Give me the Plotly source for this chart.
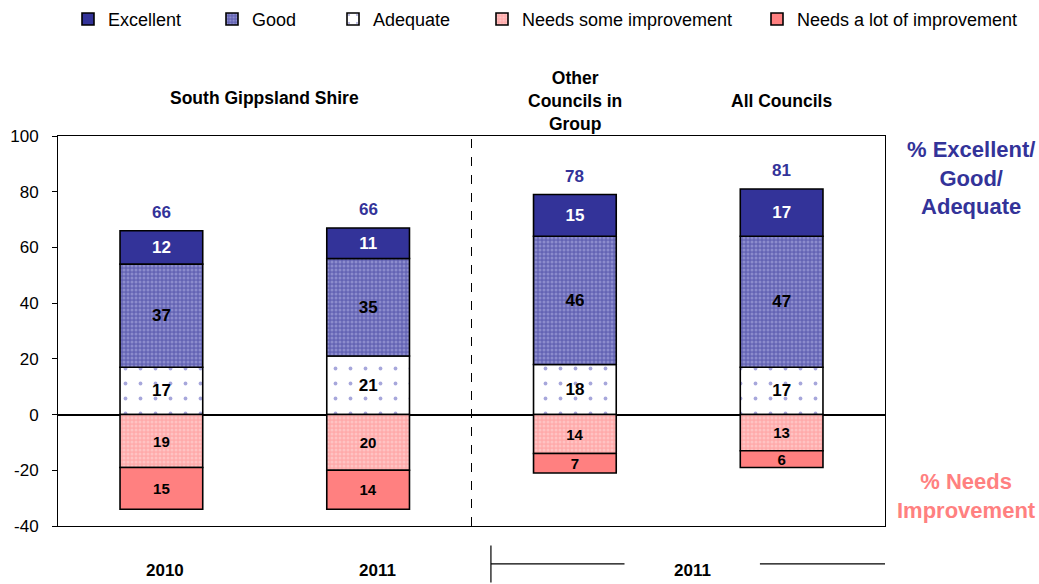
import plotly.graph_objects as go

categories = ["2010", "2011", "Other Councils in Group", "All Councils"]
excellent = [12, 11, 15, 17]
good = [37, 35, 46, 47]
adequate = [17, 21, 18, 17]
needs_some = [19, 20, 14, 13]
needs_lot = [15, 14, 7, 6]
totals = [66, 66, 78, 81]
y_ticks = [-40, -20, 0, 20, 40, 60, 80, 100]

FONT = "Liberation Sans, Arial, sans-serif"
NAVY = "#333399"
SALMON = "#FF8080"
xs = list(range(len(categories)))
BW = 0.4
line = dict(color="black", width=1.6)

# legend text start positions (px, container) for each series
legend_text_px = {"Excellent": 108, "Good": 252, "Adequate": 373,
                  "Needs some improvement": 522, "Needs a lot of improvement": 797}
legend_ids = {"Excellent": "legend", "Good": "legend2", "Adequate": "legend3",
              "Needs some improvement": "legend4", "Needs a lot of improvement": "legend5"}

fig = go.Figure()
fig.add_trace(go.Bar(
    x=xs, y=adequate, name="Adequate", width=BW, legend=legend_ids["Adequate"],
    text=adequate, textfont=dict(color="black", size=17, family=FONT, weight="bold"),
    marker=dict(color="white", line=line,
                pattern=dict(shape=".", fgcolor="#5050b8", bgcolor="white", size=15, solidity=0.05)),
))
fig.add_trace(go.Bar(
    x=xs, y=good, name="Good", width=BW, legend=legend_ids["Good"],
    text=good, textfont=dict(color="black", size=17, family=FONT, weight="bold"),
    marker=dict(color="#7f7fc6", line=line,
                pattern=dict(shape=".", fgcolor="#b4b4e6", bgcolor="#6464b4", size=4, solidity=0.45)),
))
fig.add_trace(go.Bar(
    x=xs, y=excellent, name="Excellent", width=BW, legend=legend_ids["Excellent"],
    text=excellent, textfont=dict(color="white", size=17, family=FONT, weight="bold"),
    marker=dict(color=NAVY, line=line),
))
fig.add_trace(go.Bar(
    x=xs, y=[-v for v in needs_some], name="Needs some improvement", width=BW,
    legend=legend_ids["Needs some improvement"],
    text=needs_some, textfont=dict(color="black", size=15, family=FONT, weight="bold"),
    marker=dict(color="#FFBDBD", line=line,
                pattern=dict(shape=".", fgcolor="#FFDCDC", bgcolor="#FFAAAA", size=4, solidity=0.45)),
))
fig.add_trace(go.Bar(
    x=xs, y=[-v for v in needs_lot], name="Needs a lot of improvement", width=BW,
    legend=legend_ids["Needs a lot of improvement"],
    text=needs_lot, textfont=dict(color="black", size=15, family=FONT, weight="bold"),
    marker=dict(color=SALMON, line=line),
))
fig.update_traces(textposition="inside", insidetextanchor="middle", textangle=0,
                  constraintext="none", hoverinfo="skip")

# totals above bars
for i, t in enumerate(totals):
    top = excellent[i] + good[i] + adequate[i]
    fig.add_annotation(x=xs[i], y=top, text=f"<b>{t}</b>", showarrow=False, yshift=18,
                       xanchor="center", yanchor="middle",
                       font=dict(color=NAVY, size=17, family=FONT))

def note(x, y, text, size, color="black", xref="x", yref="paper", xshift=0):
    fig.add_annotation(x=x, y=y, xref=xref, yref=yref, text=text, showarrow=False,
                       xanchor="center", yanchor="middle", xshift=xshift,
                       font=dict(size=size, family=FONT, color=color))

# group headers
note(0.5, 1.097, "<b>South Gippsland Shire</b>", 17.5)
note(2, 1.09, "<b>Other<br>Councils in<br>Group</b>", 17.5)
note(3, 1.09, "<b>All Councils</b>", 17.5)

# right side labels
note(1.104, 0.892, "<b>% Excellent/<br>Good/<br>Adequate</b>", 22, NAVY, xref="paper")
note(1.098, 0.078, "<b>% Needs<br>Improvement</b>", 22, SALMON, xref="paper")

# bottom labels
note(0, -0.113, "<b>2010</b>", 17, xshift=4)
note(1, -0.113, "<b>2011</b>", 17, xshift=9)
note(2.57, -0.113, "<b>2011</b>", 17)

# dashed separator
fig.add_shape(type="line", x0=1.5, x1=1.5, y0=0, y1=1, xref="x", yref="paper",
              line=dict(color="black", width=1, dash="dash"))
# bracket under 2011 comparison
bl = dict(color="black", width=1.2)
fig.add_shape(type="line", x0=1.594, x1=1.594, y0=-0.05, y1=-0.145, xref="x", yref="paper", line=bl)
fig.add_shape(type="line", x0=3.505, x1=3.505, y0=-0.065, y1=-0.15, xref="x", yref="paper", line=bl)
fig.add_shape(type="line", x0=1.594, x1=2.24, y0=-0.097, y1=-0.097, xref="x", yref="paper", line=bl)
fig.add_shape(type="line", x0=2.895, x1=3.505, y0=-0.097, y1=-0.097, xref="x", yref="paper", line=bl)

legend_common = dict(orientation="h", xref="container", yref="container", y=0.967,
                     xanchor="left", yanchor="middle", bgcolor="rgba(0,0,0,0)",
                     font=dict(size=18, family=FONT, color="black"), itemwidth=30)
legend_layout = {}
for name, lid in legend_ids.items():
    legend_layout[lid] = dict(legend_common, x=(legend_text_px[name] - 40) / 1039)

fig.update_layout(
    barmode="relative",
    width=1039, height=584,
    margin=dict(l=58, r=154, t=136, b=58, autoexpand=False),
    paper_bgcolor="white", plot_bgcolor="white",
    font=dict(family=FONT, size=16, color="black"),
    showlegend=True,
    xaxis=dict(range=[-0.5, 3.5], showticklabels=False, showgrid=False, zeroline=False,
               showline=True, linecolor="black", linewidth=1, mirror=True, ticks="",
               automargin=False),
    yaxis=dict(range=[-40, 100], tickvals=y_ticks, ticktext=[str(v) for v in y_ticks],
               showgrid=False, zeroline=True, automargin=False,
               zerolinecolor="black", zerolinewidth=1.5, showline=True, linecolor="black",
               linewidth=1, mirror=True, ticks="outside", ticklen=5, tickcolor="black",
               ticklabelstandoff=10,
               tickfont=dict(size=17, family=FONT, color="black")),
    **legend_layout,
)

fig.write_html("out.html", config={"displayModeBar": False},
               post_script="document.body.style.margin='0px';")
